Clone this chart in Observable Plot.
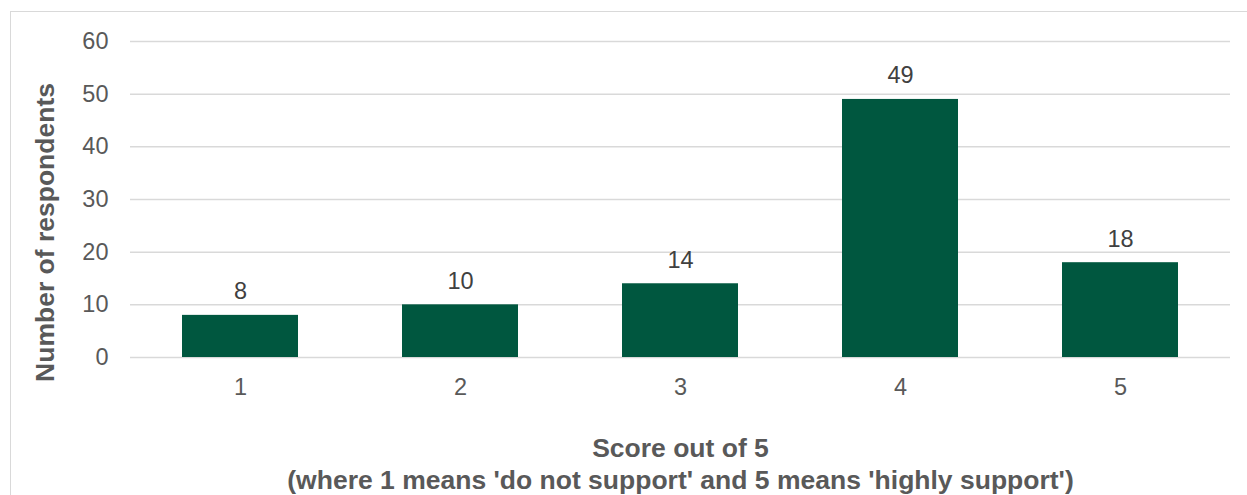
<!DOCTYPE html>
<html>
<head>
<meta charset="utf-8">
<script src="https://cdn.jsdelivr.net/npm/d3@7"></script>
<script src="https://cdn.jsdelivr.net/npm/@observablehq/plot@0.6"></script>
<style>
  html, body { margin: 0; padding: 0; background: #fff; }
  #wrap { position: relative; width: 1247px; height: 495px; overflow: hidden; }
  #border { position: absolute; left: 10px; top: 11px; width: 1300px; height: 600px;
            border-left: 1.5px solid #d9d9d9; border-top: 1.5px solid #d9d9d9; box-sizing: border-box; }
  #chart { position: absolute; left: 0; top: 0; }
</style>
</head>
<body>
<div id="wrap"><div id="border"></div><div id="chart"></div></div>
<script>
const scores = ["1", "2", "3", "4", "5"];
const counts = [8, 10, 14, 49, 18];
const yTicks = [0, 10, 20, 30, 40, 50, 60];
const xTitle1 = "Score out of 5";
const xTitle2 = "(where 1 means 'do not support' and 5 means 'highly support')";
const yTitle = "Number of respondents";

const data = scores.map((s, i) => ({score: s, count: counts[i]}));
const font = "'Liberation Sans', Arial, sans-serif";

const chart = Plot.plot({
  width: 1247,
  height: 495,
  marginTop: 41,
  marginBottom: 138,
  marginLeft: 130,
  marginRight: 17,
  style: {fontFamily: font, background: "transparent", overflow: "visible"},
  x: {domain: scores, paddingInner: 0.473, paddingOuter: 0.2365, align: 0.5, label: null},
  y: {domain: [0, 60], label: null},
  marks: [
    Plot.gridY(yTicks, {stroke: "#d9d9d9", strokeOpacity: 1, strokeWidth: 1.5}),
    Plot.barY(data, {x: "score", y: "count", fill: "#00573F"}),
    Plot.text(data, {x: "score", y: "count", text: d => String(d.count), dy: -16,
      fontSize: 23.5, fill: "#404040", lineAnchor: "bottom"}),
    Plot.axisY(yTicks, {tickSize: 0, tickPadding: 22, fontSize: 23.5, color: "#595959", label: null}),
    Plot.axisX({tickSize: 0, tickPadding: 21, fontSize: 23.5, color: "#595959", label: null}),
    Plot.text([xTitle1], {frameAnchor: "bottom", dy: 99, fontSize: 26.5, fontWeight: "bold",
      fill: "#595959", lineAnchor: "bottom"}),
    Plot.text([xTitle2], {frameAnchor: "bottom", dy: 131, fontSize: 26.5, fontWeight: "bold",
      fill: "#595959", lineAnchor: "bottom"}),
    Plot.text([yTitle], {frameAnchor: "left", dx: -77, dy: 33, rotate: -90, fontSize: 26.5,
      fontWeight: "bold", fill: "#595959", lineAnchor: "bottom", textAnchor: "middle"})
  ]
});
document.getElementById("chart").appendChild(chart);
</script>
</body>
</html>
